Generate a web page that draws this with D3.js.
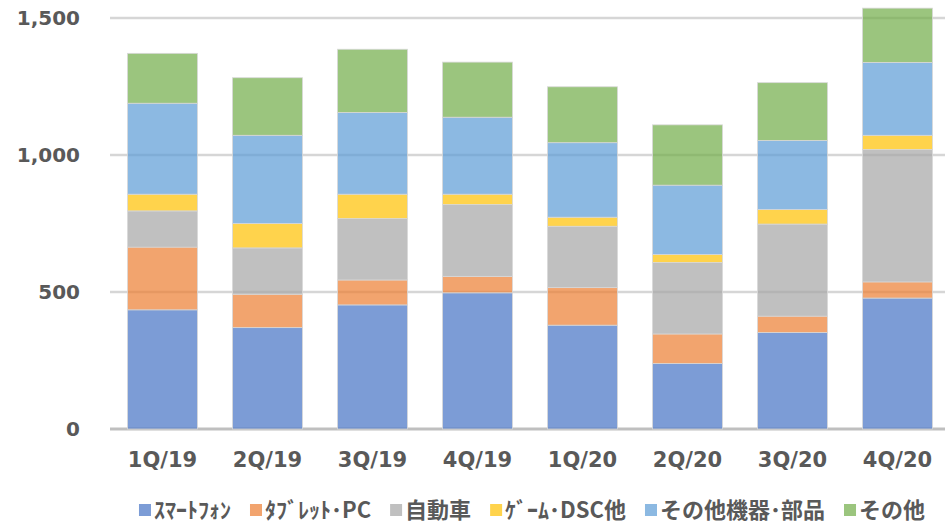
<!DOCTYPE html>
<html>
<head>
<meta charset="utf-8">
<script src="https://cdn.jsdelivr.net/npm/d3@7"></script>
<style>
  body { margin: 0; background: #fff; }
  svg { display: block; }
</style>
</head>
<body>
<div id="chart"></div>
<script>
const width = 945, height = 525;

// data
const categories = ["1Q/19", "2Q/19", "3Q/19", "4Q/19", "1Q/20", "2Q/20", "3Q/20", "4Q/20"];
const seriesNames = ["ｽﾏｰﾄﾌｫﾝ", "ﾀﾌﾞﾚｯﾄ･PC", "自動車", "ｹﾞｰﾑ･DSC他", "その他機器･部品", "その他"];
const smartphone = [435, 370, 453, 497, 379, 239, 352, 478];
const tablet = [229, 122, 91, 60, 137, 108, 60, 59];
const automotive = [132, 169, 224, 262, 224, 261, 336, 483];
const game = [61, 89, 89, 38, 33, 29, 53, 52];
const equipment = [332, 322, 298, 281, 272, 253, 252, 266];
const others = [182, 210, 231, 201, 204, 220, 211, 198];
const yTicks = [0, 500, 1000, 1500];

const colors = ["#4472C4", "#ED7D31", "#A5A5A5", "#FFC000", "#5B9BD5", "#70AD47"];
const textColor = "#595959";

const allSeries = [smartphone, tablet, automotive, game, equipment, others];
const rows = categories.map((c, i) => {
    let row = { cat: c };
    seriesNames.forEach((s, j) => row[s] = allSeries[j][i]);
    return row;
});

let svg = d3.select("#chart")
    .append("svg")
    .attr("width", width)
    .attr("height", height);

let x = d3.scaleBand()
    .domain(categories)
    .range([110, 950])
    .paddingInner(1 / 3)
    .paddingOuter(1 / 6);

let y = d3.scaleLinear()
    .domain([0, 1500])
    .range([429, 18]);

// gridlines
svg.append("g")
    .selectAll("line")
    .data(yTicks)
    .enter()
    .append("line")
    .attr("x1", 110)
    .attr("x2", width)
    .attr("y1", d => y(d))
    .attr("y2", d => y(d))
    .attr("stroke", d => d === 0 ? "#bfbfbf" : "#d6d6d6")
    .attr("stroke-width", d => d === 0 ? 3 : 2.5);

// stacked bars
let stack = d3.stack().keys(seriesNames);
let layers = stack(rows);

svg.append("g")
    .selectAll("g")
    .data(layers)
    .enter()
    .append("g")
    .attr("fill", (d, i) => colors[i])
    .selectAll("rect")
    .data(d => d)
    .enter()
    .append("rect")
    .attr("x", d => x(d.data.cat))
    .attr("y", d => y(d[1]))
    .attr("width", x.bandwidth())
    .attr("height", d => y(d[0]) - y(d[1]))
    .attr("fill-opacity", 0.7)
    .attr("stroke", "#d9d9d9")
    .attr("stroke-width", 0.8);

// y axis
let yAxis = svg.append("g")
    .attr("transform", "translate(110,0)")
    .call(d3.axisLeft(y).tickValues(yTicks).tickSize(0).tickPadding(30).tickFormat(d3.format(",")));
yAxis.select(".domain").remove();
yAxis.selectAll("text")
    .style("font-family", "'DejaVu Sans', Verdana, sans-serif")
    .style("font-weight", "bold")
    .style("font-size", "20px")
    .attr("fill", textColor);

// x axis
let xAxis = svg.append("g")
    .attr("transform", "translate(0,429)")
    .call(d3.axisBottom(x).tickSize(0).tickPadding(23));
xAxis.select(".domain").remove();
xAxis.selectAll("text")
    .style("font-family", "'DejaVu Sans', Verdana, sans-serif")
    .style("font-weight", "bold")
    .style("font-size", "21px")
    .attr("fill", textColor);

// legend
let legend = svg.append("g").attr("transform", "translate(0,510)");
let items = legend.selectAll("g")
    .data(seriesNames)
    .enter()
    .append("g");

items.append("rect")
    .attr("x", 0)
    .attr("y", -6)
    .attr("width", 12)
    .attr("height", 12)
    .attr("fill", (d, i) => colors[i])
    .attr("fill-opacity", 0.7);

items.append("text")
    .attr("x", 15)
    .attr("dy", "0.35em")
    .style("font-family", "'Noto Sans CJK JP', sans-serif")
    .style("font-weight", "bold")
    .style("font-size", "22px")
    .attr("fill", textColor)
    .text(d => d);

let offset = 0;
let positions = [];
items.each(function () {
    positions.push(offset);
    let w = d3.select(this).select("text").node().getComputedTextLength();
    offset += 15 + w + 19;
});
let total = offset - 19;
let start = 532 - total / 2;
items.attr("transform", (d, i) => `translate(${start + positions[i]},0)`);
</script>
</body>
</html>
